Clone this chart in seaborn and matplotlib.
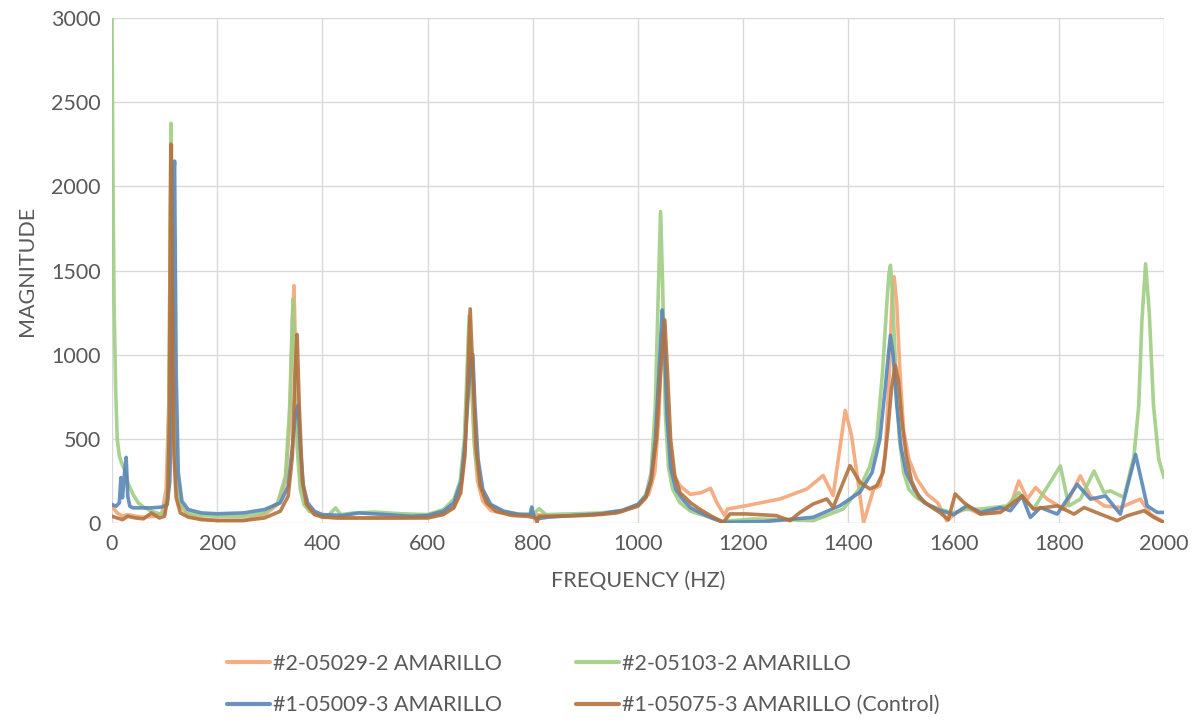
import seaborn as sns
import matplotlib.pyplot as plt
import pandas as pd


# 1. DATA
series_names = ['#2-05029-2 AMARILLO', '#2-05103-2 AMARILLO',
                '#1-05009-3 AMARILLO', '#1-05075-3 AMARILLO (Control)']
series_colors = ['#F4A576', '#9FCD84', '#5A86B8', '#B3723F']

orange_freq = [0, 10, 20, 30, 45, 60, 80, 95, 103, 108, 111, 113, 115, 118, 122, 130, 145, 170, 200,
               250, 290, 315, 330, 338, 343, 346, 349, 353, 360, 370, 385, 400, 430, 480, 550, 600,
               630, 650, 662, 670, 675, 679, 683, 688, 695, 705, 720, 740, 770, 800, 830, 880, 930,
               970, 1000, 1020, 1032, 1040, 1045, 1048, 1052, 1058, 1066, 1080, 1100, 1120, 1138,
               1150, 1165, 1170, 1206, 1270, 1321, 1352, 1371, 1394, 1406, 1429, 1448, 1460, 1470,
               1478, 1483, 1487, 1492, 1498, 1505, 1515, 1530, 1550, 1570, 1587, 1605, 1625, 1651,
               1708, 1724, 1740, 1756, 1778, 1810, 1841, 1860, 1886, 1917, 1955, 1974, 2000]
orange_mag = [100, 60, 40, 50, 40, 35, 40, 60, 200, 700, 1800, 2250, 1500, 600, 250, 100, 45, 25, 15,
              15, 50, 110, 250, 600, 1200, 1410, 1000, 500, 220, 100, 55, 40, 30, 30, 30, 35,
              60, 100, 180, 400, 800, 1180, 900, 500, 250, 130, 75, 60, 50, 50, 45, 45, 50,
              70, 110, 170, 300, 650, 1100, 1150, 900, 500, 300, 220, 170, 180, 206,
              120, 44, 83, 103, 143, 202, 282, 163, 669, 520, 4, 202, 222, 400,
              900, 1350, 1463, 1300, 900, 550, 380, 262, 170, 120, 14, 60, 90, 53,
              102, 250, 142, 211, 142, 83, 280, 161, 102, 92, 142, 53, 4]

green_freq = [0, 2, 4, 7, 10, 14, 18, 22, 26, 30, 40, 50, 60, 75, 90, 100, 106, 109, 112, 115, 118,
              122, 130, 145, 170, 200, 250, 290, 315, 330, 338, 344, 348, 352, 358, 365, 375, 390,
              410, 425, 435, 460, 500, 550, 600, 630, 650, 662, 670, 675, 679, 684, 690, 700, 715,
              740, 770, 800, 812, 825, 880, 930, 970, 1000, 1015, 1025, 1033, 1038, 1043, 1047,
              1052, 1058, 1066, 1080, 1100, 1130, 1162, 1219, 1280, 1333, 1390, 1420, 1440, 1454,
              1465, 1472, 1477, 1480, 1484, 1490, 1497, 1505, 1515, 1530, 1550, 1575, 1600, 1620,
              1651, 1702, 1724, 1752, 1803, 1819, 1841, 1867, 1886, 1898, 1924, 1943, 1952, 1958,
              1965, 1972, 1980, 1990, 2000]
green_mag = [3000, 2000, 1300, 800, 500, 400, 360, 330, 300, 240, 170, 120, 95, 70, 55, 60, 200, 900,
             2375, 1400, 500, 220, 110, 60, 45, 40, 40, 60, 120, 280, 700, 1330, 1000, 450, 200,
             110, 70, 50, 40, 90, 50, 60, 65, 55, 50, 80, 140, 250, 500, 900, 1230, 850, 420, 220,
             120, 70, 55, 50, 85, 50, 55, 60, 75, 110, 170, 300, 700, 1300, 1850, 1400, 650, 330,
             200, 120, 70, 40, 10, 24, 20, 14, 83, 200, 330, 500, 900, 1250, 1480, 1531, 1350,
             900, 500, 300, 200, 150, 110, 80, 60, 80, 83, 102, 181, 83, 339, 102, 142, 309, 181,
             191, 152, 398, 700, 1200, 1540, 1250, 700, 380, 270]

blue_freq = [0, 8, 14, 17, 20, 24, 27, 30, 34, 40, 55, 75, 95, 105, 110, 114, 117, 119, 122, 126, 133,
             145, 170, 200, 250, 290, 320, 335, 343, 349, 354, 358, 364, 372, 385, 400, 440, 470,
             520, 570, 600, 630, 650, 664, 672, 678, 683, 686, 690, 696, 705, 720, 745, 775, 795,
             798, 802, 808, 830, 880, 930, 970, 1000, 1015, 1025, 1033, 1040, 1046, 1050, 1055,
             1062, 1072, 1085, 1100, 1117, 1140, 1162, 1238, 1333, 1384, 1422, 1445, 1460, 1470,
             1476, 1480, 1485, 1492, 1500, 1510, 1525, 1545, 1570, 1600, 1625, 1651, 1689, 1708,
             1730, 1746, 1765, 1797, 1835, 1860, 1889, 1917, 1946, 1968, 1987, 2000]
blue_mag = [110, 100, 120, 270, 150, 300, 390, 160, 100, 90, 90, 90, 95, 110, 250, 800, 2000, 2150,
            900, 300, 130, 80, 60, 55, 60, 80, 120, 220, 450, 660, 700, 450, 220, 120, 70, 50, 45,
            60, 50, 40, 45, 70, 120, 250, 500, 800, 990, 1000, 700, 380, 200, 110, 70, 50, 50, 95,
            40, 25, 35, 45, 55, 75, 110, 160, 260, 500, 900, 1266, 1100, 650, 330, 200, 140, 90,
            63, 30, 4, 8, 34, 103, 183, 300, 500, 800, 1000, 1115, 1000, 700, 450, 300, 200, 120,
            80, 50, 103, 63, 92, 73, 161, 33, 92, 53, 230, 142, 161, 53, 407, 102, 63, 63]

brown_freq = [0, 10, 20, 30, 45, 60, 75, 90, 100, 106, 109, 112, 115, 118, 122, 130, 145, 170, 200,
              250, 290, 320, 335, 343, 348, 352, 356, 362, 370, 385, 400, 430, 480, 550, 600, 630,
              650, 663, 671, 676, 681, 686, 692, 700, 712, 730, 760, 790, 805, 808, 812, 840, 900,
              960, 1000, 1015, 1025, 1035, 1043, 1051, 1056, 1062, 1070, 1080, 1100, 1117, 1140,
              1162, 1175, 1206, 1263, 1289, 1308, 1333, 1359, 1371, 1403, 1422, 1441, 1454, 1466,
              1475, 1482, 1489, 1495, 1502, 1510, 1520, 1535, 1555, 1575, 1590, 1603, 1620, 1651,
              1689, 1730, 1752, 1797, 1829, 1848, 1879, 1911, 1930, 1962, 1981, 2000]
brown_mag = [40, 30, 20, 40, 30, 25, 60, 30, 40, 150, 600, 2250, 1200, 400, 150, 60, 35, 20, 15,
             15, 30, 70, 160, 400, 900, 1120, 700, 250, 110, 50, 35, 30, 30, 30, 30, 50,
             90, 180, 400, 800, 1272, 900, 450, 220, 120, 70, 45, 40, 30, 5, 40, 40, 45,
             60, 100, 150, 250, 500, 900, 1206, 900, 500, 280, 180, 120, 83, 40,
             4, 54, 54, 44, 14, 63, 113, 143, 93, 341, 242, 202, 222, 300,
             550, 800, 937, 850, 600, 400, 250, 150, 100, 60, 20, 173, 120, 53,
             63, 161, 83, 102, 53, 92, 53, 14, 43, 73, 33, 4]

x_ticks = [0, 200, 400, 600, 800, 1000, 1200, 1400, 1600, 1800, 2000]
y_ticks = [0, 500, 1000, 1500, 2000, 2500, 3000]


# 2. LONG TABLE FOR SEABORN
frames = []
for name, f, m in zip(series_names,
                      [orange_freq, green_freq, blue_freq, brown_freq],
                      [orange_mag, green_mag, blue_mag, brown_mag]):
    frames.append(pd.DataFrame({'freq': f, 'mag': m, 'series': name}))
df = pd.concat(frames, ignore_index=True)


# 3. PLOT
sns.set_style('white')
plt.rcParams['font.family'] = ['Lato', 'DejaVu Sans']
text_color = '#595959'

fig = plt.figure(figsize=(12, 7.22), dpi=100)
ax = fig.add_axes([0.0933, 0.2756, 0.8767, 0.6994])

sns.lineplot(data=df, x='freq', y='mag', hue='series', hue_order=series_names,
             palette=dict(zip(series_names, series_colors)), estimator=None, sort=False,
             linewidth=2.6, alpha=0.9, ax=ax)

ax.set_xlim(0, 2000)
ax.set_ylim(0, 3000)
ax.set_xticks(x_ticks)
ax.set_yticks(y_ticks)
ax.tick_params(axis='both', length=0, labelsize=15.5, labelcolor=text_color, pad=8)
ax.grid(True, color='#D9D9D9', linewidth=1)
ax.set_axisbelow(True)
for s in ax.spines.values():
    s.set_visible(False)

ax.set_xlabel('FREQUENCY (HZ)', fontsize=15.5, color=text_color, labelpad=12)
ax.set_ylabel('MAGNITUDE', fontsize=15.5, color=text_color, labelpad=10)

# legend: two columns, row order orange/green then blue/brown
handles, labels = ax.get_legend_handles_labels()
ax.get_legend().remove()
order = [0, 2, 1, 3]
leg = fig.legend([handles[i] for i in order], [labels[i] for i in order],
                 loc='center', bbox_to_anchor=(0.486, 0.052), ncol=2, frameon=False,
                 fontsize=15.5, handlelength=2.0, handletextpad=0.15, columnspacing=3.45,
                 labelspacing=1.0)
for t in leg.get_texts():
    t.set_color(text_color)
for h in leg.get_lines():
    h.set_linewidth(3)

plt.savefig('out.png', dpi=100)
